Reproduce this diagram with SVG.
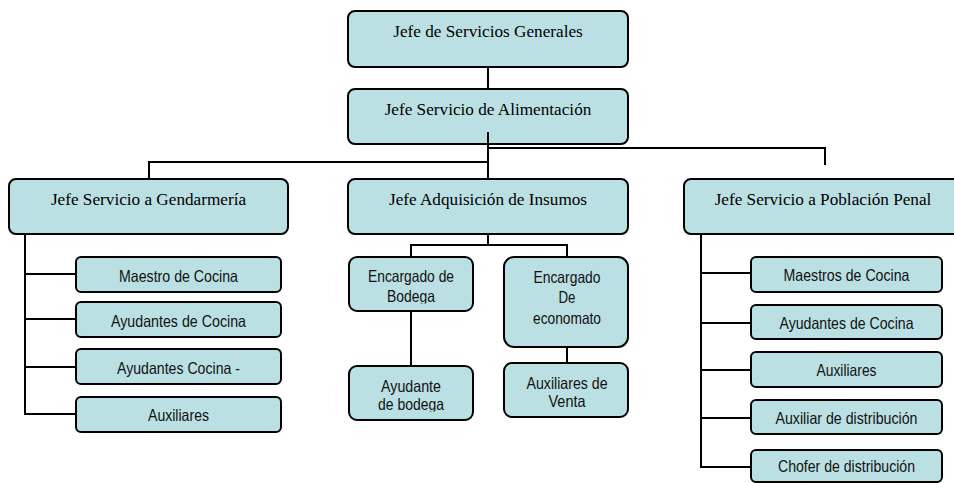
<svg xmlns="http://www.w3.org/2000/svg" width="954" height="483" viewBox="0 0 954 483">
<style>
.box{fill:#bbe0e3;stroke:#000;stroke-width:2}
.sm{fill:#bbe0e3;stroke:#000;stroke-width:2}
.ser{font-family:"Liberation Serif","Times New Roman",serif;font-size:17.2px;fill:#000;text-anchor:middle}
.san{font-family:"Liberation Sans",Arial,sans-serif;font-size:16.5px;fill:#111;text-anchor:middle}
.ln{fill:none;stroke:#000;stroke-width:2}
</style>
<defs>
<clipPath id="cBod"><rect x="349" y="257" width="124" height="46.5"/></clipPath>
<clipPath id="cAyu"><rect x="349" y="366" width="124" height="45.5"/></clipPath>
<clipPath id="cVen"><rect x="504" y="363" width="124" height="45"/></clipPath>
</defs>
<rect width="954" height="483" fill="#fff"/>
<g id="connectors">
<path class="ln" d="M488 67V89"/>
<path class="ln" d="M488 132V179"/>
<path class="ln" d="M149 179V162H488"/>
<path class="ln" d="M488 148H825V165"/>
<path class="ln" d="M488 234V245"/>
<path class="ln" d="M411 257V245H567V257"/>
<path class="ln" d="M411 311V366"/>
<path class="ln" d="M567 347V363"/>
<path class="ln" d="M25 232V414H76"/>
<path class="ln" d="M25 274H76M25 319H76M25 367H76"/>
<path class="ln" d="M701 233V467H751"/>
<path class="ln" d="M701 273H751M701 323H751M701 370H751M701 418H751"/>
</g>
<g id="n1"><rect class="box" x="348" y="11" width="280" height="56" rx="7"/><text class="ser" x="488" y="37">Jefe de Servicios Generales</text></g>
<g id="n2"><rect class="box" x="348" y="89" width="280" height="55" rx="7"/><text class="ser" x="488" y="115">Jefe Servicio de Alimentación</text></g>
<path class="ln" d="M488 132V144"/>
<g id="n3"><rect class="box" x="9" y="179" width="279" height="55" rx="7"/><text class="ser" x="148.5" y="205">Jefe Servicio a Gendarmería</text></g>
<g id="n4"><rect class="box" x="348" y="179" width="280" height="55" rx="7"/><text class="ser" x="488" y="205">Jefe Adquisición de Insumos</text></g>
<g id="n5"><rect class="box" x="684" y="179" width="280" height="55" rx="7"/><text class="ser" x="823" y="205">Jefe Servicio a Población Penal</text></g>
<g id="g1"><rect class="sm" x="76" y="257" width="205" height="35" rx="5"/><text class="san" x="178.5" y="282" textLength="119" lengthAdjust="spacingAndGlyphs">Maestro de Cocina</text></g>
<g id="g2"><rect class="sm" x="76" y="302" width="205" height="35" rx="5"/><text class="san" x="178.5" y="327" textLength="135" lengthAdjust="spacingAndGlyphs">Ayudantes de Cocina</text></g>
<g id="g3"><rect class="sm" x="76" y="349" width="205" height="35" rx="5"/><text class="san" x="178.5" y="374" textLength="123" lengthAdjust="spacingAndGlyphs">Ayudantes Cocina -</text></g>
<g id="g4"><rect class="sm" x="76" y="397" width="205" height="35" rx="5"/><text class="san" x="178.5" y="421" textLength="61" lengthAdjust="spacingAndGlyphs">Auxiliares</text></g>
<g id="b1"><rect class="sm" x="349" y="257" width="124" height="54" rx="8"/><g clip-path="url(#cBod)"><text class="san" x="411" y="282" textLength="86" lengthAdjust="spacingAndGlyphs">Encargado de</text><text class="san" x="411" y="302" textLength="48" lengthAdjust="spacingAndGlyphs">Bodega</text></g></g>
<g id="b2"><rect class="sm" x="504" y="257" width="124" height="90" rx="10"/><text class="san" x="567" y="283" textLength="67" lengthAdjust="spacingAndGlyphs">Encargado</text><text class="san" x="567" y="303" textLength="17" lengthAdjust="spacingAndGlyphs">De</text><text class="san" x="567" y="324" textLength="68" lengthAdjust="spacingAndGlyphs">economato</text></g>
<g id="b3"><rect class="sm" x="349" y="366" width="124" height="54" rx="8"/><g clip-path="url(#cAyu)"><text class="san" x="411" y="392" textLength="60" lengthAdjust="spacingAndGlyphs">Ayudante</text><text class="san" x="411" y="410" textLength="66" lengthAdjust="spacingAndGlyphs">de bodega</text></g></g>
<g id="b4"><rect class="sm" x="504" y="363" width="124" height="54" rx="8"/><g clip-path="url(#cVen)"><text class="san" x="567" y="389" textLength="81" lengthAdjust="spacingAndGlyphs">Auxiliares de</text><text class="san" x="567" y="407" textLength="37" lengthAdjust="spacingAndGlyphs">Venta</text></g></g>
<g id="p1"><rect class="sm" x="751" y="257" width="191" height="35" rx="5"/><text class="san" x="846.5" y="281" textLength="126" lengthAdjust="spacingAndGlyphs">Maestros de Cocina</text></g>
<g id="p2"><rect class="sm" x="751" y="305" width="191" height="34" rx="5"/><text class="san" x="846.5" y="329" textLength="134" lengthAdjust="spacingAndGlyphs">Ayudantes de Cocina</text></g>
<g id="p3"><rect class="sm" x="751" y="352" width="191" height="35" rx="5"/><text class="san" x="846.5" y="376" textLength="60" lengthAdjust="spacingAndGlyphs">Auxiliares</text></g>
<g id="p4"><rect class="sm" x="751" y="400" width="191" height="34" rx="5"/><text class="san" x="846.5" y="424" textLength="142" lengthAdjust="spacingAndGlyphs">Auxiliar de distribución</text></g>
<g id="p5"><rect class="sm" x="751" y="450" width="191" height="32" rx="5"/><text class="san" x="846.5" y="472" textLength="137" lengthAdjust="spacingAndGlyphs">Chofer de distribución</text></g>
</svg>
